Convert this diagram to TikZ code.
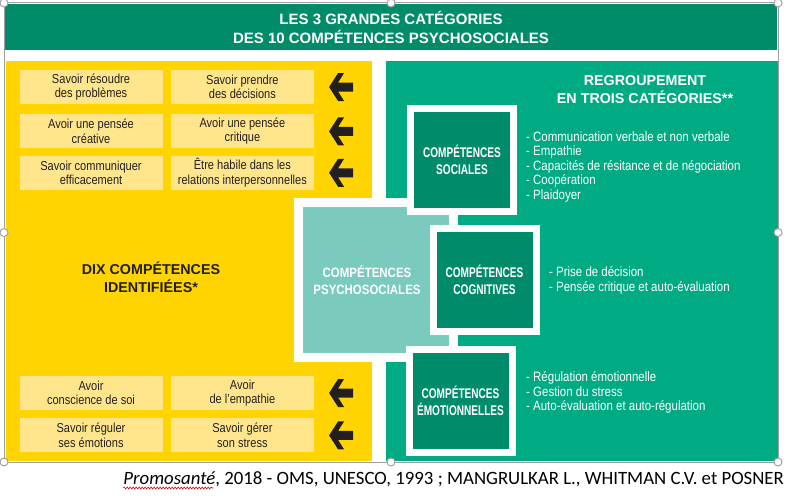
\documentclass[tikz,border=0pt]{standalone}
\usepackage{fontspec}
\setmainfont{Liberation Sans}
\newfontfamily\narrowfont[FakeStretch=0.85]{Liberation Sans}
\newfontfamily\condfont[FakeStretch=0.72]{Liberation Sans}
\newfontfamily\captionfont{Carlito}
\usetikzlibrary{positioning,decorations.pathmorphing}

\definecolor{titlegreen}{RGB}{0,140,104}
\definecolor{panelgreen}{RGB}{0,171,132}
\definecolor{catgreen}{RGB}{0,140,106}
\definecolor{psyteal}{RGB}{122,202,190}
\definecolor{panelyellow}{RGB}{255,212,0}
\definecolor{skillyellow}{RGB}{255,230,140}
\definecolor{inkdark}{RGB}{35,31,32}
\definecolor{handlegray}{RGB}{160,160,160}

\begin{document}
\begin{tikzpicture}[
    x=1pt, y=-1pt,
    node distance=10pt and 8pt,
    skill/.style={fill=skillyellow, minimum width=143pt, minimum height=34pt, inner sep=0pt, align=center, text=inkdark, font=\narrowfont\fontsize{13}{14.3}\selectfont},
    category/.style={draw=white, line width=7pt, fill=catgreen, minimum width=103pt, minimum height=103pt, inner sep=0pt, align=center, text=white, font=\condfont\bfseries\fontsize{14}{17}\selectfont},
    heading/.style={align=center, inner sep=0pt, font=\bfseries\fontsize{14.3}{17.5}\selectfont},
    itemlist/.style={anchor=west, align=left, inner sep=0pt, text=white, font=\narrowfont\fontsize{13.5}{14.5}\selectfont},
    backarrow/.pic={\fill[inkdark] (-12,0) -- (-3,-14) -- (3,-14) -- (-3,-4.5) -- (12,-4.5) -- (12,4.5) -- (-3,4.5) -- (3,14) -- (-3,14) -- cycle;},
    handle/.style={circle, draw=handlegray, fill=white, line width=1pt, minimum size=8pt, inner sep=0pt}
]
    \useasboundingbox (0,0) rectangle (792,495);

    % Title
    \node[fill=titlegreen, minimum width=772pt, minimum height=46pt, align=center, text=white, font=\bfseries\fontsize{15}{19}\selectfont] (title) at (391,27.5) {LES 3 GRANDES CATÉGORIES\\DES 10 COMPÉTENCES PSYCHOSOCIALES};

    % Panels
    \node[fill=panelyellow, minimum width=366pt, minimum height=400pt, anchor=north west, inner sep=0pt] (dixpanel) at (6,61) {};
    \node[fill=panelgreen, minimum width=392pt, minimum height=400pt, anchor=north west, inner sep=0pt] (grouppanel) at (386,61) {};

    % Ten skills
    \node[skill] (solve) at (91,87) {Savoir résoudre\\des problèmes};
    \node[skill, right=8pt of solve] (decide) {Savoir prendre\\des décisions};
    \node[skill, below=10pt of solve] (creative) {Avoir une pensée\\créative};
    \node[skill, right=8pt of creative] (critical) {Avoir une pensée\\critique};
    \node[skill, below=7pt of creative] (communicate) {Savoir communiquer\\efficacement};
    \node[skill, right=8pt of communicate] (relations) {Être habile dans les\\relations interpersonnelles};

    \node[skill] (selfaware) at (91,393) {Avoir\\conscience de soi};
    \node[skill, right=8pt of selfaware] (empathy) {Avoir\\de l’empathie};
    \node[skill, below=8pt of selfaware] (emotions) {Savoir réguler\\ses émotions};
    \node[skill, right=8pt of emotions] (stress) {Savoir gérer\\son stress};

    % Arrows
    \foreach \row in {decide,critical,relations,empathy,stress}
        \pic at ([xshift=27pt]\row.east) {backarrow};

    \node[heading, text=inkdark] (dixlabel) at (151,277) {DIX COMPÉTENCES\\IDENTIFIÉES*};

    % Central block
    \node[draw=white, line width=9pt, fill=psyteal, minimum width=155pt, minimum height=155pt, inner sep=0pt] (psycho) at (375.5,280) {};
    \node[align=center, text=white, inner sep=0pt, font=\narrowfont\bfseries\fontsize{13.5}{17.3}\selectfont] (psycholabel) at (367,280) {COMPÉTENCES\\PSYCHOSOCIALES};

    \node[category] (social) at (462,160) {COMPÉTENCES\\SOCIALES};
    \node[category] (cognitive) at (484.5,280) {COMPÉTENCES\\COGNITIVES};
    \node[category] (emotional) at (460.5,401) {COMPÉTENCES\\ÉMOTIONNELLES};

    \node[heading, text=white] (grouplabel) at (645,89.5) {REGROUPEMENT\\EN TROIS CATÉGORIES**};

    % Lists
    \node[itemlist] (socialitems) at (526,167) {- Communication verbale et non verbale\\- Empathie\\- Capacités de résitance et de négociation\\- Coopération\\- Plaidoyer};
    \node[itemlist] (cognitiveitems) at (549,280.5) {- Prise de décision\\- Pensée critique et auto-évaluation};
    \node[itemlist] (emotionalitems) at (526,392.5) {- Régulation émotionnelle\\- Gestion du stress\\- Auto-évaluation et auto-régulation};

    % Frame
    \draw[handlegray, line width=1pt] (4,3) rectangle (778,462);
    \foreach \hx/\hy in {4/3,391/3,778/3,4/232.5,778/232.5,4/462,391/462,778/462}
        \node[handle] at (\hx,\hy) {};

    % Source
    \node[anchor=base east, inner sep=0pt, font=\captionfont\fontsize{18.8}{22}\selectfont] (source) at (784,484) {\textit{Promosanté}, 2018 - OMS, UNESCO, 1993 ; MANGRULKAR L., WHITMAN C.V. et POSNER};
    \draw[red!85!black, line width=0.6pt, decorate, decoration={snake, amplitude=0.9pt, segment length=3pt}] ([yshift=-4pt]source.base west) -- ++(90,0);

\end{tikzpicture}
\end{document}
